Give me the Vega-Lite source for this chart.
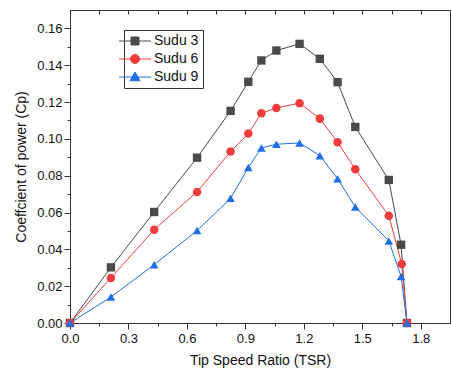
{
  "$schema": "https://vega.github.io/schema/vega-lite/v6.json",
  "autosize": "none",
  "width": 380,
  "height": 313,
  "padding": {"left": 70, "top": 10, "right": 1, "bottom": 53},
  "background": "white",
  "config": {
    "view": {"stroke": "#333333", "strokeWidth": 1},
    "font": "Liberation Sans",
    "axis": {"domainColor": "#333333", "tickColor": "#333333", "labelColor": "#111111", "titleColor": "#111111", "labelFont": "Liberation Sans", "titleFont": "Liberation Sans", "labelFontSize": 13, "titleFontSize": 14, "titleFontWeight": "normal", "grid": false},
    "legend": {"strokeColor": "#333333", "fillColor": "#ffffff", "padding": 4}
  },
  "data": {
    "values": [
      {"s": "Sudu 3", "x": 0.0, "y": 0.0},
      {"s": "Sudu 3", "x": 0.21, "y": 0.0302},
      {"s": "Sudu 3", "x": 0.432, "y": 0.0603},
      {"s": "Sudu 3", "x": 0.652, "y": 0.0898},
      {"s": "Sudu 3", "x": 0.824, "y": 0.1152},
      {"s": "Sudu 3", "x": 0.915, "y": 0.131},
      {"s": "Sudu 3", "x": 0.982, "y": 0.1426},
      {"s": "Sudu 3", "x": 1.059, "y": 0.148},
      {"s": "Sudu 3", "x": 1.178, "y": 0.1516},
      {"s": "Sudu 3", "x": 1.282, "y": 0.1435},
      {"s": "Sudu 3", "x": 1.373, "y": 0.1308},
      {"s": "Sudu 3", "x": 1.464, "y": 0.1065},
      {"s": "Sudu 3", "x": 1.636, "y": 0.0777},
      {"s": "Sudu 3", "x": 1.699, "y": 0.0425},
      {"s": "Sudu 3", "x": 1.729, "y": 0.0},
      {"s": "Sudu 6", "x": 0.0, "y": 0.0},
      {"s": "Sudu 6", "x": 0.21, "y": 0.0245},
      {"s": "Sudu 6", "x": 0.432, "y": 0.0507},
      {"s": "Sudu 6", "x": 0.652, "y": 0.0712},
      {"s": "Sudu 6", "x": 0.824, "y": 0.0931},
      {"s": "Sudu 6", "x": 0.915, "y": 0.1029},
      {"s": "Sudu 6", "x": 0.982, "y": 0.1139},
      {"s": "Sudu 6", "x": 1.059, "y": 0.1168},
      {"s": "Sudu 6", "x": 1.178, "y": 0.1194},
      {"s": "Sudu 6", "x": 1.282, "y": 0.111},
      {"s": "Sudu 6", "x": 1.373, "y": 0.0982},
      {"s": "Sudu 6", "x": 1.464, "y": 0.0835},
      {"s": "Sudu 6", "x": 1.636, "y": 0.0583},
      {"s": "Sudu 6", "x": 1.702, "y": 0.0321},
      {"s": "Sudu 6", "x": 1.729, "y": 0.0},
      {"s": "Sudu 9", "x": 0.0, "y": 0.0},
      {"s": "Sudu 9", "x": 0.21, "y": 0.0141},
      {"s": "Sudu 9", "x": 0.432, "y": 0.0317},
      {"s": "Sudu 9", "x": 0.652, "y": 0.0502},
      {"s": "Sudu 9", "x": 0.824, "y": 0.0677},
      {"s": "Sudu 9", "x": 0.915, "y": 0.0844},
      {"s": "Sudu 9", "x": 0.982, "y": 0.0951},
      {"s": "Sudu 9", "x": 1.059, "y": 0.0971},
      {"s": "Sudu 9", "x": 1.178, "y": 0.0978},
      {"s": "Sudu 9", "x": 1.282, "y": 0.0909},
      {"s": "Sudu 9", "x": 1.373, "y": 0.0784},
      {"s": "Sudu 9", "x": 1.464, "y": 0.063},
      {"s": "Sudu 9", "x": 1.636, "y": 0.0446},
      {"s": "Sudu 9", "x": 1.699, "y": 0.0253},
      {"s": "Sudu 9", "x": 1.729, "y": 0.0}
    ]
  },
  "resolve": {"axis": {"x": "independent", "y": "independent"}, "scale": {"color": "independent", "shape": "independent", "stroke": "independent"}},
  "layer": [
    {
      "mark": {"type": "line", "strokeWidth": 1},
      "encoding": {
        "x": {"field": "x", "type": "quantitative", "scale": {"domain": [0, 1.95], "nice": false, "zero": false},
          "axis": {"orient": "bottom", "title": "Tip Speed Ratio (TSR)", "values": [0, 0.15, 0.3, 0.45, 0.6, 0.75, 0.9, 1.05, 1.2, 1.35, 1.5, 1.65, 1.8],
            "labelExpr": "abs(datum.value/0.3 - round(datum.value/0.3)) < 0.001 ? format(datum.value, '.1f') : ''",
            "tickSize": {"condition": {"test": "abs(datum.value/0.3 - round(datum.value/0.3)) < 0.001", "value": 6}, "value": 3},
            "labelPadding": 3, "titlePadding": 8, "labelFlush": false, "labelOverlap": false}},
        "y": {"field": "y", "type": "quantitative", "scale": {"domain": [0, 0.17], "nice": false},
          "axis": {"title": "Coeffcient of power (Cp)", "values": [0, 0.01, 0.02, 0.03, 0.04, 0.05, 0.06, 0.07, 0.08, 0.09, 0.1, 0.11, 0.12, 0.13, 0.14, 0.15, 0.16],
            "labelExpr": "abs(datum.value/0.02 - round(datum.value/0.02)) < 0.001 ? format(datum.value, '.2f') : ''",
            "tickSize": {"condition": {"test": "abs(datum.value/0.02 - round(datum.value/0.02)) < 0.001", "value": 6}, "value": 3},
            "labelPadding": 2, "titlePadding": 8, "labelFlush": false, "labelOverlap": false}},
        "color": {"field": "s", "type": "nominal", "scale": {"domain": ["Sudu 3", "Sudu 6", "Sudu 9"], "range": ["#4a4a4a", "#f03c3c", "#1f6ee8"]}, "legend": null},
        "detail": {"field": "s"}
      }
    },
    {
      "mark": {"type": "point", "filled": true, "opacity": 1},
      "encoding": {
        "x": {"field": "x", "type": "quantitative", "axis": null},
        "y": {"field": "y", "type": "quantitative", "axis": null},
        "color": {"field": "s", "type": "nominal", "scale": {"domain": ["Sudu 3", "Sudu 6", "Sudu 9"], "range": ["#4a4a4a", "#f03c3c", "#1f6ee8"]}, "legend": null},
        "shape": {"field": "s", "type": "nominal", "scale": {"domain": ["Sudu 3", "Sudu 6", "Sudu 9"], "range": ["square", "circle", "triangle-up"]}, "legend": null},
        "size": {"field": "s", "type": "nominal", "scale": {"domain": ["Sudu 3", "Sudu 6", "Sudu 9"], "range": [70, 75, 95]}, "legend": null}
      }
    },
    {
      "transform": [{"filter": "datum.y < -1"}],
      "mark": {"type": "point", "filled": true, "strokeWidth": 1, "opacity": 1},
      "encoding": {
        "x": {"field": "x", "type": "quantitative",
          "axis": {"orient": "top", "title": null, "labels": false, "domain": false, "values": [0, 0.15, 0.3, 0.45, 0.6, 0.75, 0.9, 1.05, 1.2, 1.35, 1.5, 1.65, 1.8], "tickSize": -4}},
        "y": {"field": "y", "type": "quantitative", "axis": null},
        "color": {"field": "s", "type": "nominal", "scale": {"domain": ["Sudu 3", "Sudu 6", "Sudu 9"], "range": ["#4a4a4a", "#f03c3c", "#1f6ee8"]},
          "legend": {"orient": "none", "legendX": 54, "legendY": 20, "title": null, "strokeColor": "#333333", "fillColor": "#ffffff", "padding": 4,
            "labelFont": "Liberation Sans", "labelFontSize": 14, "labelColor": "#111111", "symbolSize": 100, "symbolStrokeWidth": 1, "symbolOpacity": 1, "labelOffset": 12, "rowPadding": 4}},
        "stroke": {"field": "s", "type": "nominal", "scale": {"domain": ["Sudu 3", "Sudu 6", "Sudu 9"], "range": ["#4a4a4a", "#f03c3c", "#1f6ee8"]}},
        "shape": {"field": "s", "type": "nominal", "scale": {"domain": ["Sudu 3", "Sudu 6", "Sudu 9"], "range": ["M-3.2,0H3.2M-0.8,-0.8H0.8V0.8H-0.8Z", "M-3.2,0H3.2M-0.9,0A0.9,0.9,0,1,1,0.9,0A0.9,0.9,0,1,1,-0.9,0Z", "M-3.2,0H3.2M0,-1L1,0.75H-1Z"]}}
      }
    }
  ]
}
